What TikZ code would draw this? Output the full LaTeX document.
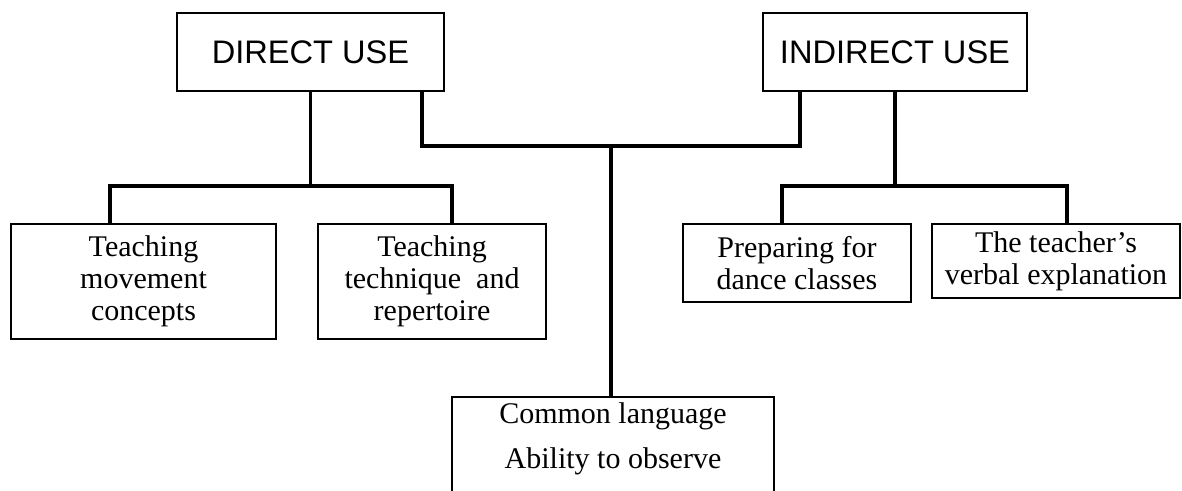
\documentclass[tikz,border=0pt]{standalone}
\usepackage{fontspec}
\setmainfont{Liberation Serif}
\newfontfamily\headfont{Liberation Sans}

\begin{document}
\begin{tikzpicture}[
        x=0.5pt, y=-0.5pt,
        topic/.style={draw,line width=0.8pt,inner sep=0pt,font=\headfont\fontsize{16.3}{18}\selectfont},
        item/.style={draw,line width=0.8pt,inner sep=0pt,align=center,font=\fontsize{15}{16}\selectfont},
        link/.style={line width=1.6pt},
      ]
      \useasboundingbox (0,0) rectangle (1182,491);

      \path (310.5,52) node[topic,minimum width=133.5pt,minimum height=39pt] (direct) {DIRECT USE};
      \path (895,52) node[topic,minimum width=132pt,minimum height=39pt] (indirect) {INDIRECT USE};

      \path (143.5,281.5) node[item,minimum width=132.5pt,minimum height=57.5pt] (movement) {Teaching\\movement\\concepts};
      \path (432,281.5) node[item,minimum width=114pt,minimum height=57.5pt] (technique) {Teaching\\technique~ and\\repertoire};
      \path (797,263) node[item,minimum width=114pt,minimum height=39pt] (preparing) {Preparing for\\dance classes};
      \path (1056,261) node[item,line width=1.1pt,minimum width=124pt,minimum height=37pt] (verbal) {The teacher’s\\verbal explanation};
      \path (613,445) node[item,minimum width=161pt,minimum height=48pt] (common) {Common language\\[6.5pt]Ability to observe\rule[-9.5pt]{0pt}{0pt}};

      \coordinate (dl) at (110,186);
      \coordinate (dr) at (452,186);
      \coordinate (il) at (782,186);
      \coordinate (ir) at (1067,186);
      \coordinate (dh) at (422,146);
      \coordinate (ih) at (800,146);
      \coordinate (hub) at (611,146);

      \draw[link] (direct.south) -- (direct.south |- dl);
      \draw[link] (movement.north -| dl) -- (dl) -- (dr) -- (technique.north -| dr);
      \draw[link] (indirect.south) -- (indirect.south |- il);
      \draw[link] (preparing.north -| il) -- (il) -- (ir) -- (verbal.north -| ir);
      \draw[link] (direct.south -| dh) -- (dh) -- (ih) -- (indirect.south -| ih);
      \draw[link] (hub) -- (common.north -| hub);

    \end{tikzpicture}
\end{document}
